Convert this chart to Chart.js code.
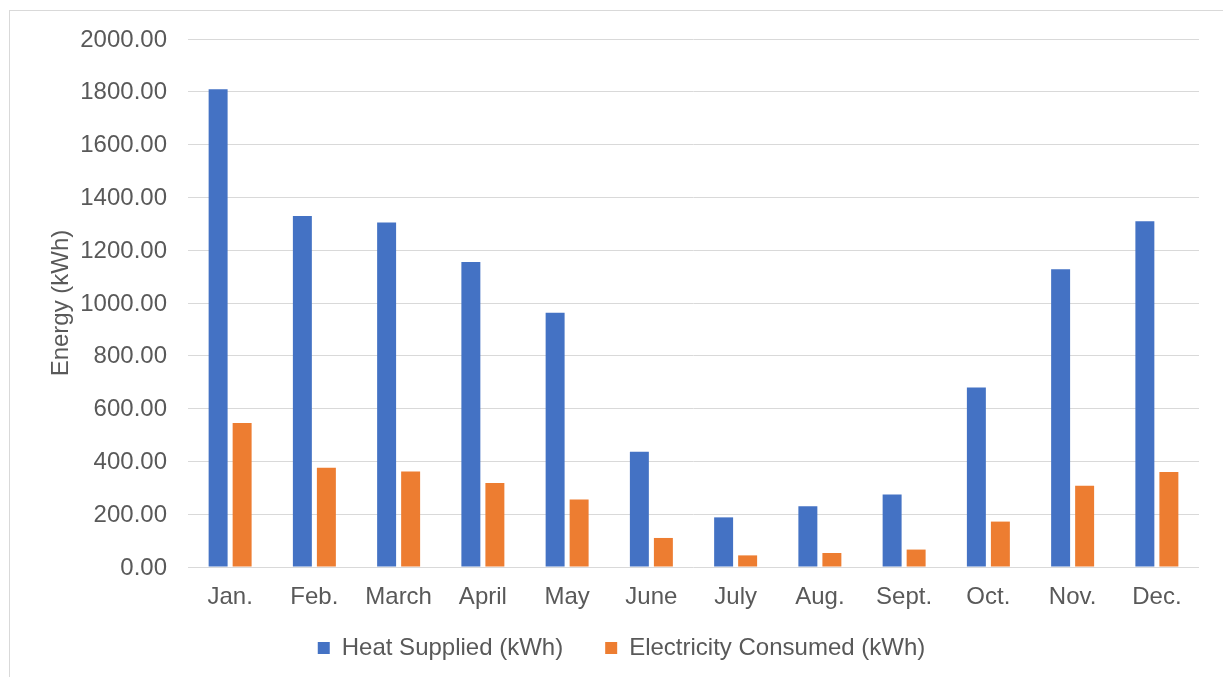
<!DOCTYPE html>
<html>
<head>
<meta charset="utf-8">
<title>Energy (kWh)</title>
<script src="https://cdn.jsdelivr.net/npm/chart.js@4/dist/chart.umd.min.js"></script>
<style>
  html, body { margin: 0; padding: 0; background: #ffffff; overflow: hidden; }
  #wrap { position: relative; width: 1223px; height: 677px; }
  #frame {
    position: absolute; left: 9px; top: 10px; right: -2px; bottom: -2px;
    border: 1px solid #d9d9d9;
  }
  #chart { position: absolute; left: 0; top: 0; }
</style>
</head>
<body>
<div id="wrap">
  <div id="frame"></div>
  <canvas id="chart" width="1223" height="677"></canvas>
</div>
<script>
// Monthly energy figures
const months = ['Jan.', 'Feb.', 'March', 'April', 'May', 'June', 'July', 'Aug.', 'Sept.', 'Oct.', 'Nov.', 'Dec.'];
const heatSupplied = [1810, 1330, 1305, 1155, 963, 437, 188, 230, 275, 680, 1128, 1310];
const electricityConsumed = [545, 376, 362, 318, 256, 110, 44, 53, 66, 172, 308, 360];
const yTicks = [0, 200, 400, 600, 800, 1000, 1200, 1400, 1600, 1800, 2000];

const textColor = '#595959';
const gridColor = '#d9d9d9';
const fontFamily = '"Liberation Sans", Arial, sans-serif';
const fontSize = 24;

new Chart(document.getElementById('chart'), {
  type: 'bar',
  data: {
    labels: months,
    datasets: [
      {
        label: 'Heat Supplied (kWh)',
        data: heatSupplied,
        backgroundColor: '#4472c4',
        categoryPercentage: 0.57,
        barPercentage: 0.79
      },
      {
        label: 'Electricity Consumed (kWh)',
        data: electricityConsumed,
        backgroundColor: '#ed7d31',
        categoryPercentage: 0.57,
        barPercentage: 0.79
      }
    ]
  },
  options: {
    responsive: false,
    animation: false,
    devicePixelRatio: 1,
    layout: { padding: { left: 44, right: 24, top: 39, bottom: 7 } },
    plugins: {
      tooltip: { enabled: false },
      legend: {
        position: 'bottom',
        labels: {
          color: textColor,
          font: { family: fontFamily, size: fontSize },
          boxWidth: 12,
          boxHeight: 12,
          padding: 42
        }
      }
    },
    scales: {
      x: {
        grid: { display: false, drawTicks: false },
        border: { display: false },
        ticks: {
          color: textColor,
          font: { family: fontFamily, size: fontSize },
          padding: 16,
          maxRotation: 0,
          autoSkip: false
        },
        afterFit: (scale) => {
          // the month labels sit partly over the legend band, so keep them unclipped
          scale.height = 27;
          scale._computeLabelArea = () => null;
        }
      },
      y: {
        min: 0,
        max: 2000,
        afterBuildTicks: (scale) => { scale.ticks = yTicks.map(v => ({ value: v })); },
        grid: { color: gridColor, lineWidth: 1, drawTicks: false },
        border: { display: false },
        ticks: {
          color: textColor,
          font: { family: fontFamily, size: fontSize },
          padding: 21,
          labelOffset: 1,
          callback: (v) => Number(v).toFixed(2)
        },
        title: {
          display: true,
          text: 'Energy (kWh)',
          color: textColor,
          font: { family: fontFamily, size: fontSize },
          padding: { top: 3, bottom: 0 }
        },
        afterFit: (scale) => { scale.width = 144; }
      }
    }
  }
});
</script>
</body>
</html>
